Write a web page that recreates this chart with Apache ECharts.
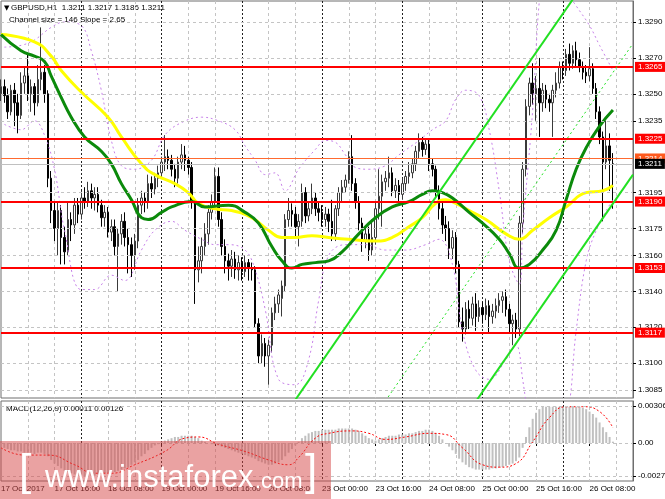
<!DOCTYPE html>
<html>
<head>
<meta charset="utf-8">
<script src="https://cdn.jsdelivr.net/npm/echarts@6/dist/echarts.min.js"></script>
<style>
html, body { margin: 0; padding: 0; background: #fff; }
#chart { width: 665px; height: 499px; }
</style>
</head>
<body>
<div id="chart"></div>
<script>
// bottom time labels, one every 16 hourly bars
const timeLabels = ['17 Oct 2017', '17 Oct 16:00', '18 Oct 08:00', '19 Oct 00:00', '19 Oct 16:00', '20 Oct 08:00',
    '23 Oct 00:00', '23 Oct 16:00', '24 Oct 08:00', '25 Oct 00:00', '25 Oct 16:00', '26 Oct 08:00'];

// GBPUSD H1 candles: [open, close, low, high]
const candles = [
    [1.3250,1.3254,1.3246,1.3258],[1.3254,1.3249,1.3245,1.3258],[1.3249,1.3240,1.3236,1.3253],[1.3240,1.3252,1.3238,1.3255],
    [1.3252,1.3245,1.3232,1.3256],[1.3245,1.3238,1.3228,1.3250],[1.3238,1.3256,1.3236,1.3262],[1.3256,1.3260,1.3250,1.3265],
    [1.3260,1.3250,1.3246,1.3272],[1.3250,1.3254,1.3240,1.3258],[1.3254,1.3245,1.3238,1.3256],[1.3245,1.3258,1.3243,1.3266],
    [1.3258,1.3262,1.3252,1.3287],[1.3262,1.3250,1.3245,1.3266],[1.3250,1.3203,1.3198,1.3252],[1.3203,1.3185,1.3178,1.3207],
    [1.3185,1.3175,1.3168,1.3190],[1.3175,1.3185,1.3160,1.3190],[1.3185,1.3170,1.3155,1.3188],[1.3170,1.3162,1.3155,1.3176],
    [1.3162,1.3180,1.3160,1.3190],[1.3180,1.3177,1.3168,1.3184],[1.3177,1.3188,1.3172,1.3192],[1.3188,1.3183,1.3178,1.3192],
    [1.3183,1.3192,1.3180,1.3196],[1.3192,1.3190,1.3186,1.3198],[1.3190,1.3196,1.3187,1.3201],[1.3196,1.3192,1.3186,1.3200],
    [1.3192,1.3194,1.3185,1.3198],[1.3194,1.3188,1.3184,1.3198],[1.3188,1.3181,1.3176,1.3191],[1.3181,1.3184,1.3176,1.3188],
    [1.3184,1.3173,1.3170,1.3187],[1.3173,1.3176,1.3168,1.3180],[1.3176,1.3165,1.3160,1.3180],[1.3165,1.3172,1.3140,1.3175],
    [1.3172,1.3179,1.3166,1.3183],[1.3179,1.3170,1.3165,1.3184],[1.3170,1.3166,1.3150,1.3175],[1.3166,1.3160,1.3148,1.3170],
    [1.3160,1.3168,1.3152,1.3172],[1.3168,1.3188,1.3164,1.3192],[1.3188,1.3192,1.3183,1.3196],[1.3192,1.3190,1.3184,1.3195],
    [1.3190,1.3200,1.3186,1.3205],[1.3200,1.3197,1.3192,1.3204],[1.3197,1.3203,1.3194,1.3206],[1.3203,1.3206,1.3198,1.3210],
    [1.3206,1.3212,1.3203,1.3215],[1.3212,1.3215,1.3207,1.3227],[1.3215,1.3213,1.3208,1.3219],[1.3213,1.3208,1.3204,1.3216],
    [1.3208,1.3203,1.3198,1.3211],[1.3203,1.3212,1.3200,1.3215],[1.3212,1.3216,1.3208,1.3222],[1.3216,1.3213,1.3207,1.3221],
    [1.3213,1.3209,1.3205,1.3215],[1.3209,1.3190,1.3186,1.3212],[1.3190,1.3152,1.3133,1.3192],[1.3152,1.3157,1.3145,1.3165],
    [1.3157,1.3165,1.3150,1.3170],[1.3165,1.3172,1.3160,1.3178],[1.3172,1.3184,1.3166,1.3188],[1.3184,1.3190,1.3180,1.3194],
    [1.3190,1.3204,1.3186,1.3209],[1.3204,1.3180,1.3176,1.3209],[1.3180,1.3165,1.3160,1.3184],[1.3165,1.3157,1.3150,1.3169],
    [1.3157,1.3154,1.3146,1.3161],[1.3154,1.3158,1.3148,1.3163],[1.3158,1.3152,1.3147,1.3162],[1.3152,1.3156,1.3146,1.3160],
    [1.3156,1.3151,1.3146,1.3159],[1.3151,1.3156,1.3148,1.3160],[1.3156,1.3153,1.3146,1.3158],[1.3153,1.3152,1.3146,1.3156],
    [1.3152,1.3122,1.3120,1.3154],[1.3122,1.3104,1.3100,1.3125],[1.3104,1.3111,1.3100,1.3116],[1.3111,1.3104,1.3098,1.3114],
    [1.3104,1.3110,1.3088,1.3113],[1.3110,1.3128,1.3106,1.3131],[1.3128,1.3133,1.3124,1.3137],[1.3133,1.3138,1.3128,1.3141],
    [1.3136,1.3143,1.3126,1.3146],[1.3143,1.3180,1.3140,1.3183],[1.3180,1.3185,1.3176,1.3192],[1.3185,1.3183,1.3176,1.3189],
    [1.3183,1.3176,1.3170,1.3187],[1.3176,1.3179,1.3165,1.3183],[1.3179,1.3195,1.3176,1.3200],[1.3195,1.3182,1.3178,1.3198],
    [1.3182,1.3186,1.3179,1.3190],[1.3186,1.3192,1.3183,1.3200],[1.3192,1.3186,1.3182,1.3195],[1.3186,1.3184,1.3179,1.3190],
    [1.3184,1.3180,1.3176,1.3188],[1.3180,1.3183,1.3176,1.3187],[1.3183,1.3179,1.3173,1.3186],[1.3179,1.3172,1.3168,1.3191],
    [1.3172,1.3186,1.3168,1.3188],[1.3186,1.3195,1.3182,1.3198],[1.3195,1.3198,1.3190,1.3202],[1.3198,1.3202,1.3195,1.3205],
    [1.3202,1.3215,1.3200,1.3218],[1.3215,1.3200,1.3196,1.3227],[1.3200,1.3190,1.3186,1.3203],[1.3190,1.3178,1.3174,1.3193],
    [1.3178,1.3168,1.3162,1.3181],[1.3168,1.3172,1.3164,1.3176],[1.3172,1.3163,1.3157,1.3176],[1.3163,1.3170,1.3160,1.3180],
    [1.3170,1.3186,1.3166,1.3190],[1.3186,1.3193,1.3180,1.3208],[1.3193,1.3201,1.3176,1.3205],[1.3201,1.3203,1.3196,1.3207],
    [1.3203,1.3206,1.3198,1.3215],[1.3206,1.3196,1.3193,1.3209],[1.3196,1.3199,1.3192,1.3203],[1.3199,1.3194,1.3190,1.3202],
    [1.3194,1.3200,1.3191,1.3203],[1.3200,1.3204,1.3196,1.3207],[1.3204,1.3206,1.3200,1.3212],[1.3206,1.3211,1.3203,1.3214],
    [1.3211,1.3218,1.3207,1.3221],[1.3218,1.3223,1.3214,1.3228],[1.3223,1.3219,1.3215,1.3226],[1.3219,1.3222,1.3216,1.3225],
    [1.3222,1.3211,1.3207,1.3225],[1.3211,1.3208,1.3204,1.3214],[1.3208,1.3196,1.3192,1.3210],[1.3196,1.3186,1.3180,1.3199],
    [1.3186,1.3177,1.3172,1.3190],[1.3177,1.3175,1.3168,1.3182],[1.3175,1.3164,1.3158,1.3179],[1.3164,1.3170,1.3158,1.3174],
    [1.3170,1.3155,1.3150,1.3173],[1.3155,1.3123,1.3120,1.3157],[1.3123,1.3119,1.3112,1.3131],[1.3119,1.3130,1.3116,1.3134],
    [1.3130,1.3125,1.3119,1.3135],[1.3125,1.3133,1.3121,1.3137],[1.3133,1.3126,1.3118,1.3139],[1.3126,1.3131,1.3123,1.3135],
    [1.3131,1.3127,1.3122,1.3134],[1.3127,1.3132,1.3124,1.3136],[1.3132,1.3126,1.3117,1.3135],[1.3126,1.3129,1.3122,1.3133],
    [1.3129,1.3132,1.3125,1.3136],[1.3132,1.3135,1.3128,1.3139],[1.3135,1.3137,1.3128,1.3140],[1.3137,1.3130,1.3126,1.3141],
    [1.3130,1.3122,1.3117,1.3133],[1.3122,1.3124,1.3110,1.3127],[1.3124,1.3119,1.3114,1.3128],[1.3119,1.3178,1.3115,1.3182],
    [1.3178,1.3208,1.3172,1.3212],[1.3208,1.3243,1.3204,1.3247],[1.3243,1.3256,1.3238,1.3259],[1.3256,1.3250,1.3244,1.3267],
    [1.3250,1.3253,1.3235,1.3260],[1.3253,1.3245,1.3226,1.3270],[1.3245,1.3252,1.3240,1.3256],[1.3252,1.3247,1.3242,1.3255],
    [1.3247,1.3245,1.3240,1.3250],[1.3245,1.3252,1.3226,1.3255],[1.3252,1.3256,1.3248,1.3262],[1.3256,1.3265,1.3253,1.3268],
    [1.3265,1.3263,1.3258,1.3268],[1.3263,1.3272,1.3260,1.3275],[1.3272,1.3267,1.3263,1.3278],[1.3267,1.3274,1.3264,1.3277],
    [1.3274,1.3269,1.3265,1.3279],[1.3269,1.3265,1.3262,1.3273],[1.3265,1.3262,1.3258,1.3268],[1.3262,1.3260,1.3256,1.3266],
    [1.3260,1.3264,1.3257,1.3276],[1.3264,1.3253,1.3250,1.3267],[1.3253,1.3240,1.3236,1.3256],[1.3240,1.3226,1.3222,1.3243],
    [1.3226,1.3212,1.3179,1.3229],[1.3212,1.3221,1.3208,1.3235],[1.3221,1.3213,1.3196,1.3228],[1.3211,1.3211,1.3186,1.3217]
];

// moving averages: [bar, price]
const maYellow = [[0,1.3283],[10,1.3279],[15,1.3271],[18,1.3263],[24,1.3251],[32,1.3237],[36,1.3226],[42,1.3211],[46,1.3205],
    [52,1.3200],[56,1.3195],[59,1.3189],[64,1.3186],[69,1.3185],[75,1.3181],[80,1.3174],[84,1.3170],[88,1.3170],[93,1.3171],
    [98,1.3170],[104,1.3169],[112,1.3168],[117,1.3170],[122,1.3176],[126,1.3181],[130,1.3189],[133,1.3191],[136,1.3189],
    [140,1.3185],[145,1.3180],[151,1.3172],[155,1.3169],[159,1.3174],[164,1.3181],[169,1.3187],[175,1.3195],[180,1.3196],[183,1.3199]];
const maGreen = [[0,1.3283],[6,1.3274],[10,1.3271],[13,1.3268],[15,1.3260],[18,1.3248],[21,1.3237],[25,1.3226],[30,1.3218],
    [33,1.3211],[36,1.3200],[39,1.3191],[42,1.3181],[44,1.3180],[48,1.3184],[51,1.3187],[57,1.3190],[61,1.3187],[68,1.3188],
    [73,1.3184],[77,1.3178],[81,1.3165],[84,1.3157],[87,1.3153],[90,1.3155],[94,1.3156],[98,1.3157],[102,1.3162],[107,1.3172],
    [112,1.3181],[117,1.3187],[122,1.3190],[126,1.3194],[129,1.3196],[132,1.3195],[135,1.3192],[140,1.3184],[144,1.3178],
    [149,1.3169],[152,1.3161],[155,1.3153],[158,1.3155],[162,1.3163],[166,1.3174],[169,1.3191],[172,1.3208],[175,1.3220],
    [179,1.3232],[183,1.3241]];

// envelope bands (violet dotted): [bar, price]
const bandUpper = [[1,1.3276],[6,1.3277],[10,1.3280],[15,1.3287],[19,1.3290],[24,1.3288],[27,1.3274],[30,1.3252],[33,1.3224],
    [36,1.3210],[40,1.3208],[45,1.3213],[49,1.3227],[54,1.3234],[60,1.3237],[65,1.3235],[70,1.3230],[73,1.3221],[76,1.3213],
    [79,1.3205],[82,1.3206],[85,1.3196],[89,1.3208],[94,1.3219],[97,1.3224],[100,1.3223],[103,1.3216],[106,1.3209],[110,1.3208],
    [115,1.3210],[119,1.3216],[125,1.3224],[129,1.3230],[133,1.3235],[136,1.3247],[139,1.3252],[143,1.3249],[146,1.3230],
    [149,1.3196],[152,1.3157],[155,1.3144],[156,1.3174],[159,1.3241],[161,1.3302],[164,1.3347],[167,1.3313],[172,1.3299],
    [176,1.3288],[179,1.3277],[183,1.3263]];
const bandLower = [[1,1.3233],[6,1.3230],[10,1.3235],[13,1.3227],[16,1.3208],[19,1.3174],[24,1.3141],[28,1.3141],[33,1.3149],
    [37,1.3146],[42,1.3163],[46,1.3174],[51,1.3179],[55,1.3174],[60,1.3169],[64,1.3166],[68,1.3166],[73,1.3163],[76,1.3152],
    [79,1.3130],[83,1.3091],[88,1.3088],[92,1.3102],[95,1.3135],[98,1.3160],[103,1.3166],[109,1.3166],[115,1.3163],[121,1.3163],
    [127,1.3166],[131,1.3169],[135,1.3155],[138,1.3118],[142,1.3096],[146,1.3091],[151,1.3102],[154,1.3110],[156,1.3091],
    [158,1.3063],[161,1.3024],[169,1.3068],[172,1.3118],[175,1.3157],[178,1.3174],[181,1.3185],[183,1.3191]];

// regression channel (146 pips wide, slope 2.65): [bar, price]
const channelUpper = [[80, 1.3058], [189, 1.3351]];
const channelMiddle = [[80, 1.2985], [189, 1.3278]];
const channelLower = [[80, 1.2912], [189, 1.3205]];

// horizontal levels
const levels = [1.3265, 1.3225, 1.3190, 1.3153, 1.3117];
const askPrice = 1.3214;
const bidPrice = 1.3211;
const priceTicks = [1.3290, 1.3270, 1.3250, 1.3235, 1.3195, 1.3175, 1.3160, 1.3140, 1.3120, 1.3100, 1.3085];

// MACD(12,26,9) main histogram per bar and signal line
const macdHist = [
    -0.0004,-0.0004,-0.0005,-0.0006,-0.0006,-0.0007,-0.0007,-0.0008,-0.0008,-0.0008,-0.0009,-0.0008,-0.0008,
    -0.0009,-0.0011,-0.0014,-0.0017,-0.0019,-0.0021,
    -0.0023,-0.0024,-0.0025,-0.0026,-0.0027,-0.0027,-0.0028,-0.0028,-0.0027,-0.0027,-0.0026,
    -0.0026,-0.0025,-0.0025,-0.0024,-0.0024,-0.0023,-0.0022,-0.0021,-0.0020,-0.0018,-0.0016,-0.0014,
    -0.0011,-0.0009,-0.0006,-0.0004,-0.0002,-0.0001,0.0001,
    0.0002,0.0003,0.0004,0.0005,0.0005,0.0006,0.0006,0.0006,0.0006,0.0005,0.0004,0.0002,0.0001,
    0.0000,-0.0001,-0.0001,-0.0002,-0.0003,-0.0004,-0.0005,-0.0006,
    -0.0007,-0.0008,-0.0009,-0.0010,-0.0011,-0.0012,-0.0013,-0.0015,-0.0016,-0.0017,-0.0018,-0.0018,-0.0017,-0.0016,-0.0014,-0.0011,
    -0.0008,-0.0005,-0.0002,0.0001,0.0004,0.0006,0.0008,0.0009,
    0.0010,0.0010,0.0011,0.0011,0.0011,0.0011,0.0011,0.0012,0.0012,0.0012,0.0012,0.0012,0.0011,
    0.0010,0.0008,0.0006,0.0004,0.0003,0.0002,0.0003,
    0.0004,0.0005,0.0006,0.0006,0.0006,0.0007,0.0007,0.0007,0.0008,0.0008,0.0009,0.0010,0.0010,0.0011,0.0011,0.0010,
    0.0008,0.0006,0.0003,0.0000,-0.0003,-0.0006,-0.0009,-0.0013,
    -0.0016,-0.0018,-0.0020,-0.0021,-0.0022,-0.0022,-0.0022,-0.0022,-0.0022,-0.0021,
    -0.0021,-0.0020,-0.0020,-0.0019,-0.0018,-0.0017,-0.0015,-0.0012,
    -0.0004,0.0005,0.0013,0.0020,0.0025,0.0028,
    0.0030,0.0030,0.0030,0.0030,0.0030,0.0030,0.0030,0.0030,0.0030,0.0030,0.0030,0.0030,0.0029,0.0028,
    0.0026,0.0024,0.0021,0.0017,0.0013,0.0009,0.0005,0.00011
];
const macdSignal = [[0,-0.0004],[7,-0.0010],[14,-0.0010],[22,-0.0018],[28,-0.0025],[33,-0.0025],[40,-0.0018],[49,-0.0007],
    [55,0.0004],[59,0.0005],[65,-0.0001],[73,-0.0007],[80,-0.0014],[86,-0.0018],[89,-0.0012],[94,0.0004],[98,0.0008],
    [105,0.0010],[110,0.0008],[115,0.0003],[121,0.0005],[128,0.0008],[133,0.0007],[138,-0.0004],[144,-0.0018],[149,-0.0020],
    [154,-0.0017],[159,0.0001],[164,0.0021],[169,0.0030],[174,0.0030],[179,0.0026],[183,0.00126]];
const macdTicks = [0.00306, 0, -0.00273];

const BAR_SLOTS = 190;
const categories = Array.from({ length: BAR_SLOTS }, (_, i) => String(i));
const FONT = 'Liberation Sans, Arial, DejaVu Sans, sans-serif';

const chart = echarts.init(document.getElementById('chart'));

function xAxisFor(gridIndex, dark, withLabels) {
    return {
        type: 'category',
        gridIndex: gridIndex,
        data: categories,
        boundaryGap: false,
        axisLine: { show: false },
        axisTick: withLabels ? {
            show: true, interval: (i) => i % 16 === 0, length: 3, lineStyle: { color: '#000' }
        } : { show: false },
        axisLabel: withLabels ? {
            show: true,
            interval: (i) => i % 16 === 0,
            formatter: (v, i) => timeLabels[i / 16] || '',
            align: 'left',
            margin: 4,
            fontSize: 8,
            fontFamily: FONT,
            color: '#000'
        } : { show: false },
        splitLine: {
            show: true,
            interval: dark ? (i) => i % 24 === 0 && i > 0 : (i) => i % 8 === 0 && i % 24 !== 0,
            lineStyle: dark ? { color: '#222', type: [2, 2], width: 1 } : { color: '#c4c4c4', type: [3, 3], width: 1 }
        }
    };
}

function levelLine(value, color, width, boxColor) {
    return {
        yAxis: value,
        lineStyle: { color: color, width: width, type: 'solid' },
        label: {
            show: true,
            position: 'end',
            distance: 2,
            formatter: value.toFixed(4),
            backgroundColor: boxColor,
            color: '#fff',
            fontSize: 8,
            fontFamily: FONT,
            padding: [1, 3, 1, 3]
        }
    };
}

chart.setOption({
    animation: false,
    backgroundColor: '#ffffff',
    textStyle: { fontFamily: FONT },
    grid: [
        { left: 1, top: 1, width: 632, height: 397, show: true, borderColor: '#6e6e6e', borderWidth: 1, outerBoundsMode: 'none' },
        { left: 1, top: 401, width: 632, height: 80, show: true, borderColor: '#6e6e6e', borderWidth: 1, outerBoundsMode: 'none' }
    ],
    xAxis: [
        xAxisFor(0, false, false),
        xAxisFor(0, true, false),
        xAxisFor(1, false, true),
        xAxisFor(1, true, false)
    ],
    yAxis: [
        {
            type: 'value', gridIndex: 0, position: 'right',
            min: 1.30806, max: 1.33017,
            axisLine: { show: true, lineStyle: { color: '#6e6e6e' } },
            axisTick: { show: true, customValues: priceTicks, length: 3, lineStyle: { color: '#000' } },
            axisLabel: { customValues: priceTicks, formatter: (v) => v.toFixed(4), fontSize: 8, fontFamily: FONT, color: '#000', margin: 5 },
            splitLine: { show: false }
        },
        {
            type: 'value', gridIndex: 1, position: 'right',
            min: -0.003143, max: 0.003474,
            axisLine: { show: true, lineStyle: { color: '#6e6e6e' } },
            axisTick: { show: true, customValues: macdTicks, length: 3, lineStyle: { color: '#000' } },
            axisLabel: {
                customValues: macdTicks,
                formatter: (v) => (v === 0 ? '0.00' : v.toFixed(5)),
                fontSize: 8, fontFamily: FONT, color: '#000', margin: 5
            },
            splitLine: { show: false }
        }
    ],
    series: [
        {
            // price grid lines
            type: 'line', xAxisIndex: 0, yAxisIndex: 0, data: [], z: 1, silent: true,
            markLine: {
                silent: true, symbol: 'none', animation: false, precision: 6,
                label: { show: false },
                lineStyle: { color: '#c4c4c4', type: [3, 3], width: 1 },
                data: priceTicks.map((v) => ({ yAxis: v }))
            }
        },
        {
            type: 'candlestick', xAxisIndex: 0, yAxisIndex: 0, z: 2,
            data: candles,
            barWidth: 2,
            itemStyle: {
                color: '#ffffff', color0: '#000000',
                borderColor: '#3a3a3a', borderColor0: '#000000', borderColorDoji: '#000000',
                borderWidth: 1
            }
        },
        {
            type: 'line', xAxisIndex: 0, yAxisIndex: 0, z: 3, data: bandUpper, smooth: 0.4,
            showSymbol: false, lineStyle: { color: '#c680e8', width: 1, type: [2, 3] }
        },
        {
            type: 'line', xAxisIndex: 0, yAxisIndex: 0, z: 3, data: bandLower, smooth: 0.4,
            showSymbol: false, lineStyle: { color: '#c680e8', width: 1, type: [2, 3] }
        },
        {
            type: 'line', xAxisIndex: 0, yAxisIndex: 0, z: 4, data: maYellow, smooth: 0.5,
            showSymbol: false, lineStyle: { color: '#ffff00', width: 3 }
        },
        {
            type: 'line', xAxisIndex: 0, yAxisIndex: 0, z: 4, data: maGreen, smooth: 0.5,
            showSymbol: false, lineStyle: { color: '#0b8a0b', width: 3 }
        },
        {
            type: 'line', xAxisIndex: 0, yAxisIndex: 0, z: 5, data: channelUpper,
            showSymbol: false, lineStyle: { color: '#22e022', width: 2 }
        },
        {
            type: 'line', xAxisIndex: 0, yAxisIndex: 0, z: 5, data: channelMiddle,
            showSymbol: false, lineStyle: { color: '#22e022', width: 1, type: [2, 3] }
        },
        {
            type: 'line', xAxisIndex: 0, yAxisIndex: 0, z: 5, data: channelLower,
            showSymbol: false, lineStyle: { color: '#22e022', width: 2 }
        },
        {
            // support / resistance levels and price lines
            type: 'line', xAxisIndex: 0, yAxisIndex: 0, data: [], z: 6, silent: true,
            markLine: {
                silent: true, symbol: 'none', animation: false, precision: 6,
                data: levels.map((v) => levelLine(v, '#ff0000', 2, '#ff0000'))
                    .concat([levelLine(askPrice, '#ff6a30', 1, '#ff5a1e'), levelLine(bidPrice, '#c0c0c0', 1, '#000000')])
            }
        },
        {
            // MACD grid lines
            type: 'line', xAxisIndex: 2, yAxisIndex: 1, data: [], z: 1, silent: true,
            markLine: {
                silent: true, symbol: 'none', animation: false, precision: 6,
                label: { show: false },
                lineStyle: { color: '#c4c4c4', type: [3, 3], width: 1 },
                data: macdTicks.map((v) => ({ yAxis: v }))
            }
        },
        {
            type: 'bar', xAxisIndex: 2, yAxisIndex: 1, z: 2, data: macdHist,
            barWidth: 2, itemStyle: { color: '#c0c0c0' }
        },
        {
            type: 'line', xAxisIndex: 2, yAxisIndex: 1, z: 3, data: macdSignal, smooth: 0.5,
            showSymbol: false, lineStyle: { color: '#ff0000', width: 1, type: [2, 2] }
        }
    ],
    graphic: [
        { type: 'text', x: 4, y: 8, style: { text: '▼', fill: '#000', font: '7px DejaVu Sans', verticalAlign: 'middle' } },
        { type: 'text', x: 11, y: 8, style: { text: 'GBPUSD,H1  1.3211 1.3217 1.3186 1.3211', fill: '#000', font: '8px ' + FONT, verticalAlign: 'middle' } },
        { type: 'text', x: 9, y: 20, style: { text: 'Channel size = 146 Slope = 2.65', fill: '#000', font: '8px ' + FONT, verticalAlign: 'middle' } },
        { type: 'text', x: 6, y: 409, style: { text: 'MACD(12,26,9) 0.00011 0.00126', fill: '#000', font: '8px ' + FONT, verticalAlign: 'middle' } },
        // watermark
        { type: 'rect', z: 100, shape: { x: 0, y: 441, width: 331, height: 58 }, style: { fill: 'rgba(214,70,70,0.5)' } },
        { type: 'text', z: 101, x: 19, y: 473, style: { text: '[', fill: '#fff', font: '300 44px ' + FONT, verticalAlign: 'middle' } },
        { type: 'text', z: 101, x: 45, y: 478, style: { text: 'www.instaforex', fill: '#fff', font: '31px ' + FONT, verticalAlign: 'middle' } },
        { type: 'text', z: 101, x: 255, y: 482, style: { text: '.com', fill: '#fff', font: '22px ' + FONT, verticalAlign: 'middle' } },
        { type: 'text', z: 101, x: 305, y: 473, style: { text: ']', fill: '#fff', font: '300 44px ' + FONT, verticalAlign: 'middle' } }
    ]
});
</script>
</body>
</html>
